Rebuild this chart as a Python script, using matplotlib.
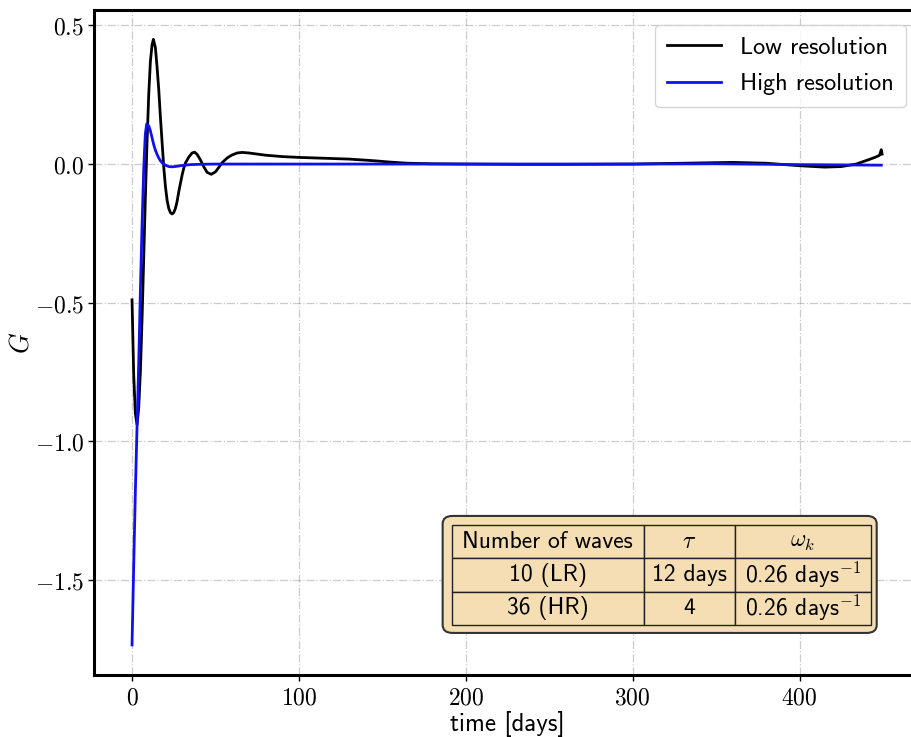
import matplotlib
matplotlib.use('Agg')
import matplotlib.pyplot as plt
from matplotlib.patches import FancyBboxPatch
from matplotlib.ticker import FuncFormatter

plt.rcParams['mathtext.fontset'] = 'cm'

# Low resolution curve (10 waves)
t_low = [0, 1, 2, 3, 4, 5, 6, 7, 8, 9, 10, 11, 12, 12.8, 14, 15, 16, 17, 18, 19,
         20, 21, 22, 23, 24, 25, 26, 27, 28, 29, 30, 31, 32, 34, 36, 37.5, 39, 41,
         43, 45, 47.5, 50, 52, 54, 57, 60, 63, 66, 70, 75, 80, 90, 100, 115, 130,
         145, 155, 165, 180, 200, 230, 260, 300, 330, 360, 380, 400, 415, 425,
         434, 442, 446, 448, 449, 449.5]
g_low = [-0.49, -0.76, -0.90, -0.94, -0.88, -0.75, -0.56, -0.34, -0.12, 0.08,
         0.25, 0.37, 0.43, 0.45, 0.42, 0.35, 0.27, 0.17, 0.08, -0.01,
         -0.08, -0.13, -0.16, -0.175, -0.18, -0.175, -0.16, -0.135, -0.10, -0.07,
         -0.04, -0.015, 0.004, 0.025, 0.04, 0.043, 0.035, 0.015,
         -0.01, -0.03, -0.037, -0.028, -0.012, 0.005, 0.022, 0.033, 0.04, 0.042,
         0.04, 0.036, 0.032, 0.027, 0.024, 0.021, 0.018,
         0.012, 0.007, 0.003, 0.001, 0.0, -0.001, -0.001, 0.0, 0.003, 0.006,
         0.003, -0.006, -0.011, -0.009, 0.0, 0.017, 0.026, 0.032, 0.052, 0.036]

# High resolution curve (36 waves)
t_high = [0, 1, 2, 3, 4, 5, 6, 7, 7.5, 8, 8.8, 10, 11, 12, 13, 14, 15, 16, 17, 18,
          20, 22, 24, 27, 30, 35, 40, 50, 100, 200, 300, 350, 400, 449]
g_high = [-1.735, -1.45, -1.18, -0.95, -0.72, -0.46, -0.22, -0.02, 0.05, 0.11,
          0.145, 0.138, 0.12, 0.095, 0.07, 0.05, 0.035, 0.022, 0.012, 0.005,
          -0.004, -0.009, -0.01, -0.008, -0.005, -0.002, -0.001, 0.0, 0.0, 0.0,
          0.0, 0.001, -0.002, -0.004]

# table content
col_labels = ['Number of waves', r'$\tau$', r'$\omega_k$']
rows = [['10 (LR)', '12 days', '0.26 days$^{-1}$'],
        ['36 (HR)', '4', '0.26 days$^{-1}$']]

fig = plt.figure(figsize=(9.12, 7.37), dpi=100)
ax = fig.add_axes([0.1036, 0.0835, 0.9057, 0.903])

ax.plot(t_low, g_low, color='black', lw=2, label='Low resolution')
ax.plot(t_high, g_high, color='#1010ee', lw=2, label='High resolution')

ax.set_xlim(-22.5, 472.5)
ax.set_ylim(-1.845, 0.556)
ax.set_xticks([0, 100, 200, 300, 400])
ax.set_yticks([-1.5, -1.0, -0.5, 0.0, 0.5])
ax.xaxis.set_major_formatter(FuncFormatter(lambda v, p: '$%d$' % v))
ax.yaxis.set_major_formatter(FuncFormatter(lambda v, p: '$%.1f$' % v))
ax.tick_params(labelsize=17, length=4, width=1)
ax.grid(True, linestyle='-.', color='gray', alpha=0.4, lw=0.9)
for s in ax.spines.values():
    s.set_linewidth(2.2)

ax.set_xlabel('time [days]', fontfamily='cmss10', fontsize=18, labelpad=1)
ax.set_ylabel('$G$', fontsize=19, labelpad=0)

leg = ax.legend(loc='upper right', prop={'family': 'cmss10', 'size': 17.5},
                handlelength=2.2, labelspacing=0.6, borderaxespad=0.6,
                borderpad=0.5)

# box behind the table
box = FancyBboxPatch((0.4215, 0.0639), 0.5255, 0.1758,
                     boxstyle='round,pad=0,rounding_size=0.012',
                     transform=ax.transAxes, facecolor='wheat',
                     edgecolor='#333333', lw=1.5, zorder=5)
ax.add_patch(box)

tab = ax.table(cellText=rows, colLabels=col_labels, cellLoc='center',
               colWidths=[0.4586, 0.217, 0.3244],
               bbox=[0.4324, 0.0759, 0.5077, 0.1503], zorder=6)
tab.auto_set_font_size(False)
for (r, c), cell in tab.get_celld().items():
    cell.set_facecolor('wheat')
    cell.set_edgecolor('#222222')
    cell.set_linewidth(1.0)
    cell.get_text().set_fontsize(17)
    cell.get_text().set_fontfamily('cmss10')

plt.savefig('out.png', dpi=100)
